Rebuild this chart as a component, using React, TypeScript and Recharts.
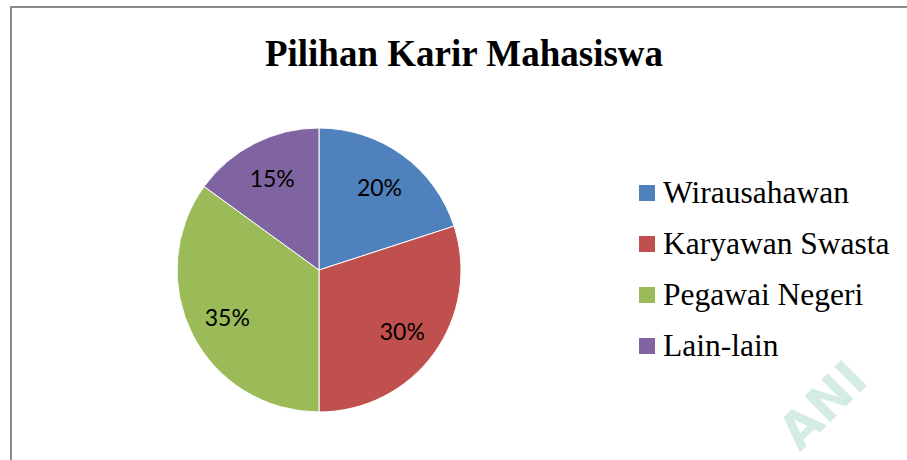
import React from "react";
import { PieChart, Pie, Cell, Legend } from "recharts";

const CATEGORIES = ["Wirausahawan", "Karyawan Swasta", "Pegawai Negeri", "Lain-lain"];
const VALUES = [20, 30, 35, 15];
const COLORS = ["#4F81BD", "#C0504D", "#9BBB59", "#8064A2"];

const data = CATEGORIES.map((name, i) => ({ name, value: VALUES[i] }));

const RAD = Math.PI / 180;

function renderLabel(props: any) {
  const { cx, cy, midAngle, outerRadius, percent } = props;
  const r = outerRadius * 0.725;
  const x = cx + r * Math.cos(-midAngle * RAD);
  const y = cy + r * Math.sin(-midAngle * RAD);
  return (
    <text
      x={x}
      y={y}
      textAnchor="middle"
      dominantBaseline="central"
      fill="#000"
      fontFamily="Lato, 'Open Sans', sans-serif"
      fontSize={23}
    >
      {`${Math.round(percent * 100)}%`}
    </text>
  );
}

function LegendContent() {
  return (
    <div style={{ fontFamily: "'Liberation Serif', 'Times New Roman', serif", fontSize: 31.5, color: "#000" }}>
      {data.map((d, i) => (
        <div key={d.name} style={{ height: 51, lineHeight: "51px", whiteSpace: "nowrap" }}>
          <span
            style={{
              display: "inline-block",
              width: 16,
              height: 16,
              background: COLORS[i],
              marginRight: 8,
              verticalAlign: "middle",
              position: "relative",
              top: -3,
            }}
          />
          {d.name}
        </div>
      ))}
    </div>
  );
}

export default function App() {
  return (
    <div style={{ position: "absolute", left: 0, top: 0, width: 907, height: 460, overflow: "hidden", background: "#fff" }}>
      <div
        style={{
          position: "absolute",
          left: 10,
          top: 6,
          width: 1000,
          height: 1000,
          border: "2px solid #8a8a8a",
        }}
      />
      <div
        style={{
          position: "absolute",
          left: 0,
          top: 35,
          width: 928,
          textAlign: "center",
          fontFamily: "'Liberation Serif', 'Times New Roman', serif",
          fontWeight: "bold",
          fontSize: 37,
          lineHeight: 1,
          color: "#000",
        }}
      >
        Pilihan Karir Mahasiswa
      </div>
      {/* faint watermark from the scanned source */}
      <div
        style={{
          position: "absolute",
          left: 770,
          top: 423,
          fontFamily: "'DejaVu Sans', sans-serif",
          fontWeight: "bold",
          fontSize: 50,
          lineHeight: 1,
          color: "#d4ece1",
          transform: "rotate(-45deg)",
          transformOrigin: "left top",
          whiteSpace: "nowrap",
        }}
      >
        ANI
      </div>
      <div style={{ position: "absolute", left: 0, top: 0 }}>
        <PieChart width={907} height={460} margin={{ top: 0, right: 0, bottom: 0, left: 0 }}>
          <Pie
            data={data}
            dataKey="value"
            nameKey="name"
            cx={319}
            cy={270}
            outerRadius={142}
            startAngle={90}
            endAngle={-270}
            stroke="#fff"
            strokeWidth={1}
            label={renderLabel}
            labelLine={false}
            isAnimationActive={false}
          >
            {data.map((d, i) => (
              <Cell key={d.name} fill={COLORS[i]} />
            ))}
          </Pie>
          <Legend
            content={<LegendContent />}
            wrapperStyle={{ position: "absolute", left: 639, top: 167, width: 268 }}
          />
        </PieChart>
      </div>
    </div>
  );
}
